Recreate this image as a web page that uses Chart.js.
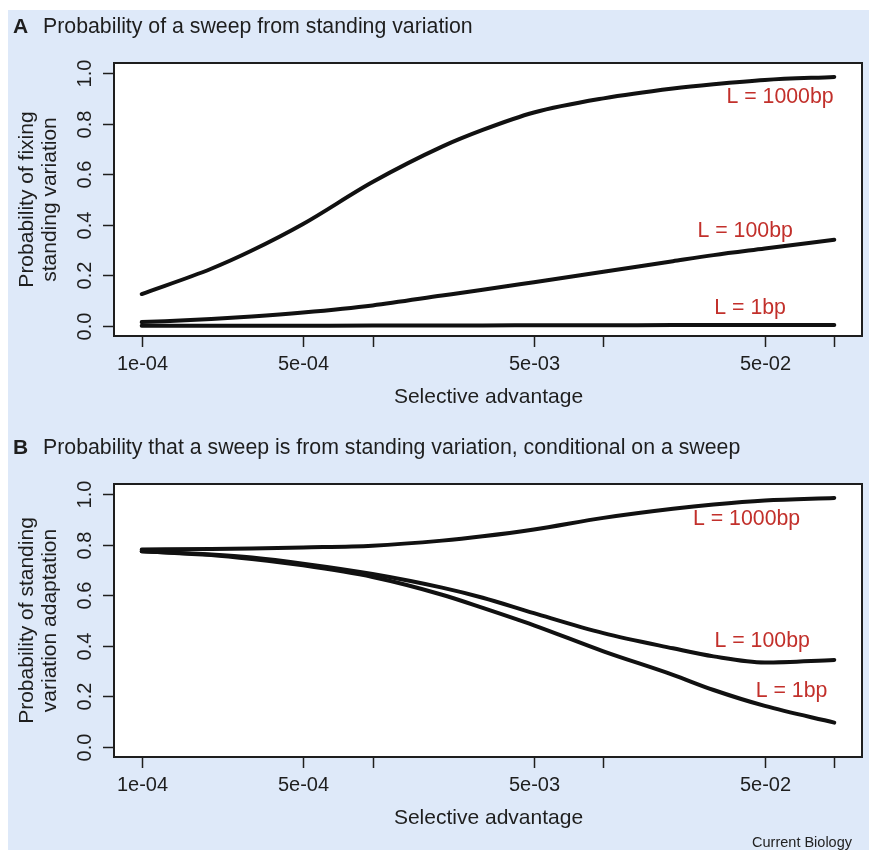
<!DOCTYPE html>
<html>
<head>
<meta charset="utf-8">
<script src="https://cdn.jsdelivr.net/npm/chart.js@4.4.1/dist/chart.umd.min.js"></script>
<style>
  body { margin: 0; background: #fff; width: 872px; height: 853px; position: relative; overflow: hidden; }
  #bg { position: absolute; left: 8px; top: 10px; width: 861px; height: 840px; background: #dee9f9; }
  canvas { position: absolute; left: 0; }
  #chartA { top: 0; }
  #chartB { top: 421px; }
  #credit { position: absolute; right: 20px; top: 834px; font: 14.5px "Liberation Sans", Arial, sans-serif; color: #222; }
</style>
</head>
<body>
<div id="bg"></div>
<canvas id="chartA" width="872" height="420"></canvas>
<canvas id="chartB" width="872" height="432"></canvas>
<div id="credit">Current Biology</div>
<script>
// selective advantage (x)
const selAdv = [1e-4, 2e-4, 3e-4, 5e-4, 1e-3, 2e-3, 3e-3, 5e-3, 1e-2, 2e-2, 3e-2, 5e-2, 1e-1];

// panel A: probability of fixing standing variation
const fixL1000 = [0.126, 0.226, 0.298, 0.403, 0.569, 0.709, 0.775, 0.844, 0.900, 0.939, 0.956, 0.973, 0.985];
const fixL100  = [0.015, 0.027, 0.037, 0.053, 0.081, 0.120, 0.143, 0.173, 0.214, 0.256, 0.280, 0.306, 0.341];
const fixL1    = [0.0002, 0.0003, 0.0005, 0.0008, 0.0012, 0.0017, 0.002, 0.0024, 0.0028, 0.0032, 0.0034, 0.0037, 0.004];

// panel B: probability of standing variation adaptation, given a sweep
const sgvL1000 = [0.781, 0.783, 0.785, 0.789, 0.796, 0.816, 0.833, 0.860, 0.906, 0.942, 0.959, 0.975, 0.985];
const sgvL100  = [0.774, 0.761, 0.749, 0.725, 0.684, 0.630, 0.590, 0.529, 0.450, 0.390, 0.358, 0.334, 0.344];
const sgvL1    = [0.774, 0.759, 0.743, 0.718, 0.672, 0.602, 0.550, 0.481, 0.378, 0.285, 0.225, 0.162, 0.096];

const xTicks = [1e-4, 5e-4, 1e-3, 5e-3, 1e-2, 5e-2, 1e-1];
const xTickLabels = ["1e-04", "5e-04", "", "5e-03", "", "5e-02", ""];
const yTicks = [0, 0.2, 0.4, 0.6, 0.8, 1.0];
const yTickLabels = ["0.0", "0.2", "0.4", "0.6", "0.8", "1.0"];

const FONT = '"Liberation Sans", Arial, sans-serif';
const INK = "#1e1e1e";
const RED = "#c2302b";

// draws the R-style frame, ticks, labels and curve notes
const rPlot = {
  id: "rPlot",
  beforeDraw(chart) {
    const a = chart.chartArea, ctx = chart.ctx;
    ctx.save();
    ctx.fillStyle = "#fff";
    ctx.fillRect(a.left, a.top, a.right - a.left, a.bottom - a.top);
    ctx.restore();
  },
  afterDatasetsDraw(chart, args, opts) {
    const a = chart.chartArea, ctx = chart.ctx;
    const xs = chart.scales.x, ys = chart.scales.y;
    ctx.save();
    ctx.strokeStyle = INK;
    ctx.lineWidth = 2;
    ctx.strokeRect(a.left, a.top, a.right - a.left, a.bottom - a.top);

    ctx.lineWidth = 1.5;
    ctx.fillStyle = INK;
    ctx.font = "20px " + FONT;
    ctx.textAlign = "center";
    ctx.textBaseline = "middle";
    xTicks.forEach((v, i) => {
      const px = Math.round(xs.getPixelForValue(v)) + 0.5;
      ctx.beginPath();
      ctx.moveTo(px, a.bottom);
      ctx.lineTo(px, a.bottom + 11);
      ctx.stroke();
      if (xTickLabels[i]) ctx.fillText(xTickLabels[i], px, a.bottom + 28);
    });
    yTicks.forEach((v, i) => {
      const py = Math.round(ys.getPixelForValue(v)) + 0.5;
      ctx.beginPath();
      ctx.moveTo(a.left, py);
      ctx.lineTo(a.left - 11, py);
      ctx.stroke();
      ctx.save();
      ctx.translate(85, py);
      ctx.rotate(-Math.PI / 2);
      ctx.fillText(yTickLabels[i], 0, 0);
      ctx.restore();
    });

    // axis titles
    ctx.font = "21px " + FONT;
    ctx.fillText("Selective advantage", (xs.getPixelForValue(1e-4) + xs.getPixelForValue(1e-1)) / 2 + 0.5, a.bottom + 61);
    const cy = (a.top + a.bottom) / 2;
    opts.yTitle.forEach((t, i) => {
      ctx.save();
      ctx.translate(27 + i * 23, cy);
      ctx.rotate(-Math.PI / 2);
      ctx.fillText(t, 0, 0);
      ctx.restore();
    });

    // panel heading
    ctx.textAlign = "left";
    ctx.font = "bold 21px " + FONT;
    ctx.fillText(opts.letter, 13, 27);
    ctx.font = "21.3px " + FONT;
    ctx.fillText(opts.title, 43, 27);

    // curve notes
    ctx.fillStyle = RED;
    ctx.font = "21.3px " + FONT;
    ctx.textAlign = "center";
    opts.notes.forEach(n => {
      ctx.fillText(n.text, xs.getPixelForValue(n.x), ys.getPixelForValue(n.y));
    });
    ctx.restore();
  }
};

function makeSeries(values) {
  return {
    data: selAdv.map((s, i) => ({ x: s, y: values[i] })),
    borderColor: "#111",
    borderWidth: 4,
    borderCapStyle: "round",
    borderJoinStyle: "round",
    pointRadius: 0,
    cubicInterpolationMode: "monotone",
    fill: false
  };
}

function makeChart(id, series, heading) {
  const canvas = document.getElementById(id);
  const h = canvas.height;
  return new Chart(canvas.getContext("2d"), {
    type: "line",
    data: { datasets: series.map(makeSeries) },
    options: {
      responsive: false,
      animation: false,
      layout: { padding: { left: 0, right: 10, top: 63, bottom: 0 } },
      scales: {
        x: {
          type: "logarithmic",
          min: Math.pow(10, -4.12),
          max: Math.pow(10, -0.88),
          grid: { display: false },
          border: { display: false },
          ticks: { display: false },
          afterFit: s => { s.height = h - 336; }
        },
        y: {
          type: "linear",
          min: -0.04,
          max: 1.04,
          grid: { display: false },
          border: { display: false },
          ticks: { display: false },
          afterFit: s => { s.width = 114; }
        }
      },
      plugins: {
        legend: { display: false },
        tooltip: { enabled: false },
        rPlot: heading
      }
    },
    plugins: [rPlot]
  });
}

makeChart("chartA", [fixL1000, fixL100, fixL1], {
  letter: "A",
  title: "Probability of a sweep from standing variation",
  yTitle: ["Probability of fixing", "standing variation"],
  notes: [
    { text: "L = 1000bp", x: 0.0582, y: 0.905 },
    { text: "L = 100bp", x: 0.0411, y: 0.373 },
    { text: "L = 1bp", x: 0.0432, y: 0.071 }
  ]
});

makeChart("chartB", [sgvL1000, sgvL100, sgvL1], {
  letter: "B",
  title: "Probability that a sweep is from standing variation, conditional on a sweep",
  yTitle: ["Probability of standing", "variation adaptation"],
  notes: [
    { text: "L = 1000bp", x: 0.0417, y: 0.901 },
    { text: "L = 100bp", x: 0.0487, y: 0.417 },
    { text: "L = 1bp", x: 0.0653, y: 0.222 }
  ]
});
</script>
</body>
</html>
